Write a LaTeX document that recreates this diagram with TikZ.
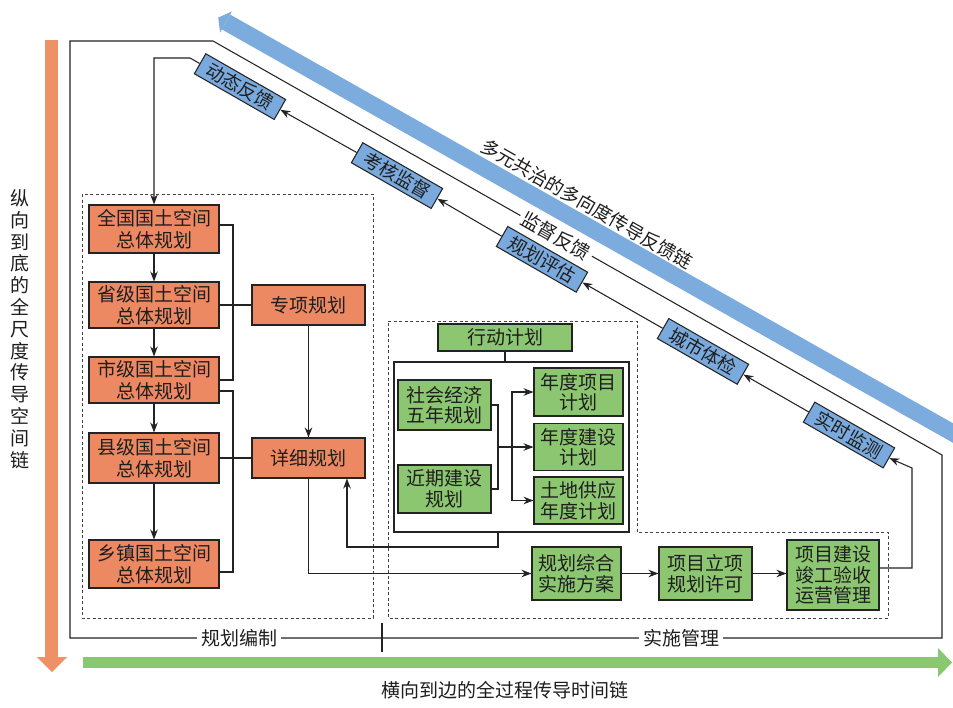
\documentclass[tikz,border=0pt]{standalone}
\usepackage{fontspec}
\setmainfont{Noto Sans CJK SC}
\usetikzlibrary{arrows.meta}
\definecolor{ofill}{RGB}{236,137,98}
\definecolor{oarrow}{RGB}{238,145,102}
\definecolor{gfill}{RGB}{140,198,112}
\definecolor{garrow}{RGB}{137,199,113}
\definecolor{bfill}{RGB}{122,170,221}
\definecolor{barrow}{RGB}{124,172,222}
\definecolor{lc}{RGB}{35,35,35}
\definecolor{tc}{RGB}{30,30,30}
\tikzset{
 ln/.style={draw=lc, line width=1.05pt},
 arr/.style={ln, -{Stealth[length=10pt,width=7.5pt]}},
 dsh/.style={draw=lc!85, line width=1pt, dash pattern=on 3pt off 2.5pt},
 obox/.style={draw=lc, line width=1.05pt, fill=ofill, inner sep=0pt, align=center, font=\fontsize{19}{22}\selectfont, text=tc},
 gbox/.style={draw=lc, line width=1.05pt, fill=gfill, inner sep=0pt, align=center, font=\fontsize{19}{20.5}\selectfont, text=tc},
 bbox/.style={draw=lc, line width=1.05pt, fill=bfill, inner sep=0pt, minimum width=92pt, minimum height=23pt, rotate=-29.8, font=\fontsize{18.5}{20}\selectfont, text=tc},
 lbl/.style={fill=white, inner sep=4pt, font=\fontsize{19}{22}\selectfont, text=tc},
}
\begin{document}
\begin{tikzpicture}[x=1pt,y=-1pt]
\fill[white] (0,0) rectangle (953,707);
\useasboundingbox (0,0) rectangle (953,707);

% big coloured arrows
\draw[barrow, line width=17pt] (960,437) -- (226,22);
\fill[barrow] (231.9,11.5) -- (218.2,17.6) -- (220.1,32.5) -- cycle;
\draw[oarrow, line width=13pt] (51.5,40) -- (51.5,657.5);
\fill[oarrow] (37,657) -- (67,657) -- (52,672) -- cycle;
\draw[garrow, line width=11.5pt] (83,662.5) -- (938.5,662.5);
\fill[garrow] (938,648) -- (952,662.5) -- (938,677) -- cycle;

% outer frame
\draw[ln] (70,638) -- (70,41) -- (213,41) -- (942,455) -- (942,638) -- cycle;
\draw[ln] (382,623) -- (382,652);
\node[lbl] (lbz) at (239,638) {规划编制};
\node[lbl] (lss) at (681,638) {实施管理};
\node[lbl, rotate=-29.6, inner sep=3pt] (ljd) at (556,236) {监督反馈};

% chain labels
\node[font=\fontsize{18.5}{20}\selectfont, text=tc, rotate=-29.7] (tdy) at (587,204) {多元共治的多向度传导反馈链};
\node[font=\fontsize{19}{22}\selectfont, text=tc] (thx) at (505,690) {横向到边的全过程传导时间链};
\node[font=\fontsize{19}{21.8}\selectfont, text=tc, align=center] (tzx) at (20,329) {纵\\向\\到\\底\\的\\全\\尺\\度\\传\\导\\空\\间\\链};

% dashed regions
\draw[dsh] (82,194) rectangle (373,618);
\draw[dsh] (388,321) -- (637,321) -- (637,532) -- (888,532) -- (888,618) -- (388,618) -- cycle;

% orange boxes
\node[obox, minimum width=130pt, minimum height=48pt] (qg) at (154,229) {全国国土空间\\总体规划};
\node[obox, minimum width=130pt, minimum height=46pt] (sj) at (154,305) {省级国土空间\\总体规划};
\node[obox, minimum width=130pt, minimum height=46pt] (sh1) at (154,380) {市级国土空间\\总体规划};
\node[obox, minimum width=130pt, minimum height=50pt] (xj) at (154,458) {县级国土空间\\总体规划};
\node[obox, minimum width=130pt, minimum height=48pt] (xz) at (154,564) {乡镇国土空间\\总体规划};
\node[obox, minimum width=113pt, minimum height=40pt] (zx) at (308.5,305) {专项规划};
\node[obox, minimum width=113pt, minimum height=40pt] (xx) at (308.5,458) {详细规划};

\draw[arr] (qg) -- (sj);
\draw[arr] (sj) -- (sh1);
\draw[arr] (sh1) -- (xj);
\draw[arr] (xj) -- (xz);
\draw[ln] (qg.east |- 0,225) -- (233,225) -- (233,380) -- (sh1.east);
\draw[ln] (sj.east) -- (zx.west);
\draw[ln] (sh1.east |- 0,391) -- (233,391) -- (233,572) -- (xz.east |- 0,572);
\draw[ln] (xj.east) -- (xx.west);
\draw[arr] (zx) -- (xx);

% action plan
\node[draw=lc, line width=1.05pt, minimum width=235pt, minimum height=170pt, inner sep=0pt] (fr) at (511.5,447) {};
\node[gbox, minimum width=134pt, minimum height=27pt] (xd) at (505,337.5) {行动计划};
\draw[ln] (xd.south) -- (xd.south |- fr.north);
\node[gbox, minimum width=93pt, minimum height=50pt] (shj) at (444.5,405) {社会经济\\五年规划};
\node[gbox, minimum width=93pt, minimum height=48pt] (jq) at (444.5,489) {近期建设\\规划};
\node[gbox, minimum width=89pt, minimum height=48pt] (nx) at (578.5,392) {年度项目\\计划};
\node[gbox, minimum width=89pt, minimum height=47pt] (nj) at (578.5,447) {年度建设\\计划};
\node[gbox, minimum width=89pt, minimum height=47pt] (tdg) at (578.5,500.5) {土地供应\\年度计划};
\draw[ln] (shj.east) -- (498,405) -- (498,489) -- (jq.east);
\draw[arr] (498,447) -- (nj.west);
\draw[arr] (512,447) |- (nx.west);
\draw[arr] (512,447) |- (tdg.west);

% implementation row
\node[gbox, minimum width=89pt, minimum height=53pt] (gh) at (576.5,573.5) {规划综合\\实施方案};
\node[gbox, minimum width=93pt, minimum height=53pt] (xm) at (705.5,573.5) {项目立项\\规划许可};
\node[gbox, minimum width=92pt, minimum height=70pt] (js) at (833,575) {项目建设\\竣工验收\\运营管理};
\draw[arr] (gh) -- (xm);
\draw[arr] (xm.east) -- (js.west |- xm.east);
\draw[arr] (xx.south) |- (gh.west);
\draw[arr] (fr.south -| 498,0) -- (498,547) -- (347,547) -- (xx.south -| 347,0);

% feedback chain
\node[bbox] (dt) at (240,86.6) {动态反馈};
\node[bbox] (kh) at (397,175.6) {考核监督};
\node[bbox] (gp) at (542,259.3) {规划评估};
\node[bbox] (cs) at (703,351.4) {城市体检};
\node[bbox] (ss) at (849,435) {实时监测};
\draw[arr] (js.east |- 0,568) -- (912,568) -- (912,468) -- (ss.east);
\draw[arr] (ss.west) -- (cs.east);
\draw[arr] (cs.west) -- (gp.east);
\draw[arr] (gp.west) -- (kh.east);
\draw[arr] (kh.west) -- (dt.east);
\draw[arr] (dt.west) -- (190,58) -- (qg.north |- 0,58) -- (qg.north);
\end{tikzpicture}
\end{document}
